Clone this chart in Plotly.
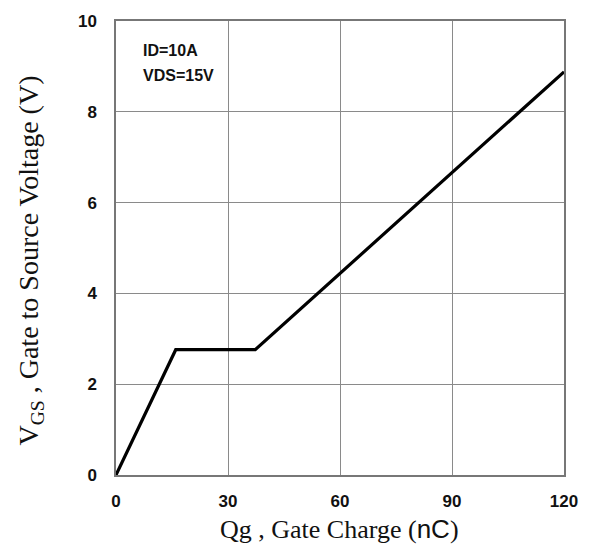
import plotly.graph_objects as go

qg = [0, 16, 37.3, 120]
vgs = [0, 2.76, 2.76, 8.88]
x_ticks = [0, 30, 60, 90, 120]
y_ticks = [0, 2, 4, 6, 8, 10]

fig = go.Figure()
fig.add_trace(go.Scatter(x=qg, y=vgs, mode="lines",
                         line=dict(color="black", width=3.2), showlegend=False))

fig.add_annotation(x=141, y=45, xref="paper", yref="paper",
                   text="<b>ID=10A</b>", showarrow=False, xanchor="left", yanchor="middle",
                   font=dict(family="Liberation Sans, Arial", size=16, color="#111"))
fig.add_annotation(x=141, y=70, xref="paper", yref="paper",
                   text="<b>VDS=15V</b>", showarrow=False, xanchor="left", yanchor="middle",
                   font=dict(family="Liberation Sans, Arial", size=16, color="#111"))

tickfont = dict(family="Liberation Sans Narrow, Liberation Sans, Arial", size=17, color="#111")
axis_common = dict(showgrid=True, gridcolor="#8a8a8a", gridwidth=1,
                   showline=True, linecolor="#777", linewidth=1.5, mirror=True,
                   zeroline=False, ticks="", tickfont=tickfont)

fig.update_xaxes(range=[0, 120], tickvals=x_ticks, ticktext=[f"<b>{v}</b>" for v in x_ticks],
                 ticklabelstandoff=10, **axis_common)
fig.update_yaxes(range=[0, 10], tickvals=y_ticks, ticktext=[f"<b>{v}</b>" for v in y_ticks],
                 ticklabelstandoff=14, **axis_common)

W, H = 590, 553
L, R, T, B = 116, 22, 15, 78

# convert pixel positions to paper coords for annotations
for ann in fig.layout.annotations:
    ann.x = (ann.x - L) / (W - L - R)
    ann.y = 1 - (ann.y - T) / (H - T - B)

title_font = dict(family="Liberation Serif, Times New Roman", color="#111")
fig.add_annotation(x=(341 - L) / (W - L - R), y=1 - (530 - T) / (H - T - B),
                   xref="paper", yref="paper", showarrow=False,
                   text="Qg , Gate Charge (<span style='font-family:Liberation Sans'>nC</span>)",
                   xanchor="center", yanchor="middle", font=dict(size=26, **title_font))
fig.add_annotation(x=(30 - L) / (W - L - R), y=1 - (258 - T) / (H - T - B),
                   xref="paper", yref="paper", showarrow=False, textangle=-90,
                   text="V<sub>GS</sub> , Gate to Source Voltage (V)",
                   xanchor="center", yanchor="middle", font=dict(size=28, **title_font))

fig.update_layout(width=W, height=H, margin=dict(l=L, r=R, t=T, b=B),
                  plot_bgcolor="white", paper_bgcolor="white")
fig.write_html("out.html")
